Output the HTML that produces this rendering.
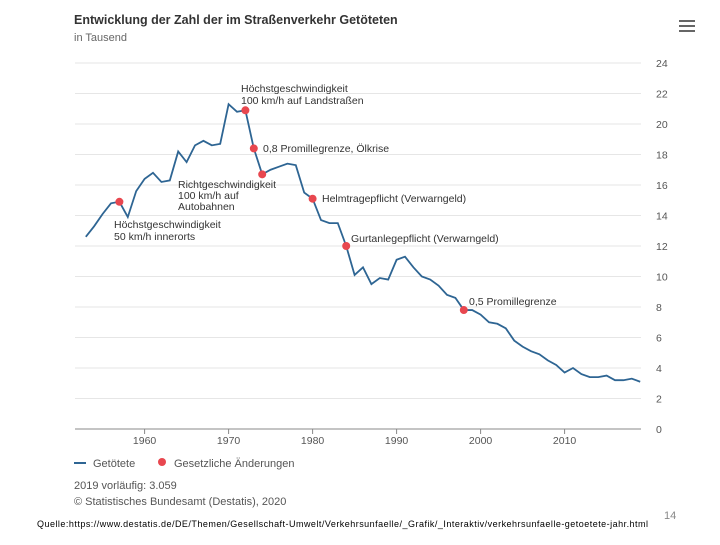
<!DOCTYPE html>
<html><head><meta charset="utf-8"><style>
body{margin:0;background:#fff;font-family:"Liberation Sans",sans-serif}
svg text{font-family:"Liberation Sans",sans-serif}
</style></head><body>
<svg id="c" width="720" height="540">
<text x="74" y="24" font-size="12.5" font-weight="bold" fill="#333">Entwicklung der Zahl der im Straßenverkehr Getöteten</text>
<text x="74" y="41" font-size="11" fill="#666">in Tausend</text>
<g><rect x="679" y="20" width="16" height="2" fill="#666"/><rect x="679" y="25" width="16" height="2" fill="#666"/><rect x="679" y="30" width="16" height="2" fill="#666"/></g>
<g id="grid"></g><g id="plot"></g><g id="ann"></g>
<line x1="29" y1="463" x2="41" y2="463" stroke="#2e6593" stroke-width="2" transform="translate(45,0)"/>
<text x="93" y="467" font-size="11" fill="#555">Getötete</text>
<circle cx="162" cy="462" r="4" fill="#e8474f"/>
<text x="174" y="467" font-size="11" fill="#555">Gesetzliche Änderungen</text>
<text x="74" y="489" font-size="11" fill="#555">2019 vorläufig: 3.059</text>
<text x="74" y="505" font-size="11" fill="#555">© Statistisches Bundesamt (Destatis), 2020</text>
<text x="37" y="527" font-size="9" fill="#000" textLength="611">Quelle:https://www.destatis.de/DE/Themen/Gesellschaft-Umwelt/Verkehrsunfaelle/_Grafik/_Interaktiv/verkehrsunfaelle-getoetete-jahr.html</text>
<text x="664" y="519" font-size="11" fill="#888">14</text>
</svg>
<script>
const years=[1953,1954,1955,1956,1957,1958,1959,1960,1961,1962,1963,1964,1965,1966,1967,1968,1969,1970,1971,1972,1973,1974,1975,1976,1977,1978,1979,1980,1981,1982,1983,1984,1985,1986,1987,1988,1989,1990,1991,1992,1993,1994,1995,1996,1997,1998,1999,2000,2001,2002,2003,2004,2005,2006,2007,2008,2009,2010,2011,2012,2013,2014,2015,2016,2017,2018,2019];
const deaths=[12.6,13.3,14.1,14.8,14.9,13.9,15.6,16.4,16.8,16.2,16.3,18.2,17.5,18.6,18.9,18.6,18.7,21.3,20.8,20.9,18.4,16.7,17.0,17.2,17.4,17.3,15.5,15.1,13.7,13.5,13.5,12.0,10.1,10.6,9.5,9.9,9.8,11.1,11.3,10.6,10.0,9.8,9.4,8.8,8.6,7.8,7.8,7.5,7.0,6.9,6.6,5.8,5.4,5.1,4.9,4.5,4.2,3.7,4.0,3.6,3.4,3.4,3.5,3.2,3.2,3.3,3.1];
const eventYears=[1957,1972,1973,1974,1980,1984,1998];
const yTicks=[0,2,4,6,8,10,12,14,16,18,20,22,24];
const xTicks=[1960,1970,1980,1990,2000,2010];
const ns="http://www.w3.org/2000/svg";
const X=y=>144.6+(y-1960)*8.4, Y=v=>429-v*15.25;
function mk(t,a,p){const e=document.createElementNS(ns,t);for(const k in a)e.setAttribute(k,a[k]);p.appendChild(e);return e;}
const g=document.getElementById('grid'),p=document.getElementById('plot');
yTicks.forEach(t=>{
 if(t>0){const l=mk('line',{x1:75,x2:641,y1:Y(t),y2:Y(t),stroke:'#e6e6e6','stroke-width':1},g);
 
 }
 const tx=mk('text',{x:656,y:Y(t)+4,'font-size':10.5,fill:'#555'},g);tx.textContent=t;
 
 
});
const ax=mk('line',{x1:75,x2:641,y1:Y(0),y2:Y(0),stroke:'#888','stroke-width':1},g);


xTicks.forEach(t=>{
 mk('line',{x1:X(t),x2:X(t),y1:Y(0),y2:Y(0)+5,stroke:'#888'},g);
 const tx=mk('text',{x:X(t),y:444,'font-size':10.5,fill:'#555','text-anchor':'middle'},g);tx.textContent=t;
 
 
});
const line=mk('polyline',{points:years.map((y,i)=>X(y)+','+Y(deaths[i])).join(' '),fill:'none',stroke:'#2e6593','stroke-width':1.8},p);


eventYears.forEach(y=>{
 const v=deaths[years.indexOf(y)];
 const c=mk('circle',{cx:X(y),cy:Y(v),r:4,fill:'#e8474f'},p);
 
 
});
const anns=[[241,92,'Höchstgeschwindigkeit'],[241,104,'100 km/h auf Landstraßen'],[263,152,'0,8 Promillegrenze, Ölkrise'],[178,188,'Richtgeschwindigkeit'],[178,199,'100 km/h auf'],[178,210,'Autobahnen'],[322,202,'Helmtragepflicht (Verwarngeld)'],[114,228,'Höchstgeschwindigkeit'],[114,240,'50 km/h innerorts'],[351,242,'Gurtanlegepflicht (Verwarngeld)'],[469,305,'0,5 Promillegrenze']];
const a=document.getElementById('ann');
anns.forEach(r=>{const t=mk('text',{x:r[0],y:r[1],'font-size':10.5,fill:'#333'},a);t.textContent=r[2];
 
 });
</script>
</body></html>
